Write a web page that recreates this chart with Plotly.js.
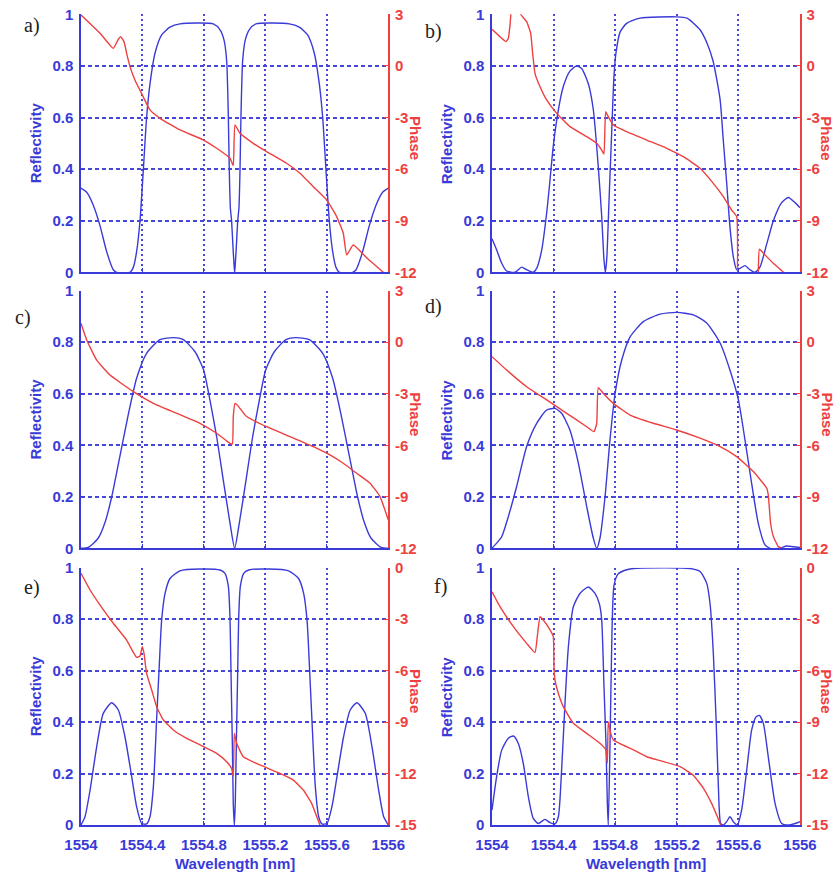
<!DOCTYPE html>
<html><head><meta charset="utf-8">
<script src="https://cdn.plot.ly/plotly-3.0.1.min.js"></script>
<style>html,body{margin:0;padding:0;background:#fff}#chart{width:836px;height:873px}</style>
</head><body><div id="chart"></div>
<script>
// ---------- tick labels ----------
const waveTicks = [1554, 1554.4, 1554.8, 1555.2, 1555.6, 1556];
const waveTickText = ['1554', '1554.4', '1554.8', '1555.2', '1555.6', '1556'];
const reflTicks = [0, 0.2, 0.4, 0.6, 0.8, 1];
const reflTickText = ['0', '0.2', '0.4', '0.6', '0.8', '1'];
const phaseTicksAD = [-12, -9, -6, -3, 0, 3];
const phaseTicksEF = [-15, -12, -9, -6, -3, 0];
const panelLabels = ['a)', 'b)', 'c)', 'd)', 'e)', 'f)'];

// ---------- panel a ----------
const waveA_R = [1554.000,1554.037,1554.080,1554.124,1554.167,1554.210,1554.232,1554.319,1554.341,1554.362,1554.384,1554.406,1554.427,1554.449,1554.482,1554.525,1554.579,1554.644,1554.861,1554.905,1554.931,1554.948,1554.959,1554.965,1554.972,1554.980,1554.989,1554.996,1555.000,1555.004,1555.011,1555.020,1555.028,1555.035,1555.041,1555.052,1555.069,1555.095,1555.139,1555.356,1555.421,1555.475,1555.518,1555.551,1555.573,1555.594,1555.616,1555.638,1555.659,1555.681,1555.768,1555.790,1555.833,1555.876,1555.920,1555.963,1556.000];
const reflA = [0.326,0.31,0.26,0.18,0.08,0.01,0,0,0.02,0.08,0.2,0.4,0.6,0.73,0.85,0.92,0.95,0.963,0.963,0.94,0.9,0.82,0.6,0.4,0.25,0.2,0.1,0.03,0,0.03,0.1,0.2,0.25,0.4,0.6,0.82,0.9,0.94,0.963,0.963,0.95,0.92,0.85,0.73,0.6,0.4,0.2,0.08,0.02,0,0,0.01,0.08,0.18,0.26,0.31,0.326];
const waveA_P = [1554.000,1554.124,1554.210,1554.243,1554.258,1554.280,1554.297,1554.319,1554.351,1554.399,1554.449,1554.514,1554.644,1554.798,1554.883,1554.970,1554.991,1555.002,1555.035,1555.121,1555.208,1555.338,1555.425,1555.512,1555.599,1555.664,1555.707,1555.729,1555.772,1555.859,1555.967,1556.000];
const phaseA = [2.96,1.9,1.02,1.55,1.70,1.41,0.73,-0.04,-0.82,-1.69,-2.56,-3.05,-3.72,-4.31,-4.79,-5.37,-5.80,-3.43,-3.92,-4.50,-4.98,-5.66,-6.24,-7.02,-7.79,-8.76,-9.73,-10.99,-10.41,-11.15,-12.0,-12.3];

// ---------- panel b ----------
const waveB_R = [1554.000,1554.030,1554.063,1554.095,1554.149,1554.193,1554.225,1554.268,1554.290,1554.323,1554.355,1554.377,1554.398,1554.431,1554.463,1554.506,1554.550,1554.582,1554.626,1554.658,1554.690,1554.712,1554.727,1554.736,1554.745,1554.760,1554.777,1554.792,1554.805,1554.831,1554.874,1554.961,1555.199,1555.266,1555.351,1555.395,1555.435,1555.481,1555.502,1555.524,1555.545,1555.567,1555.589,1555.610,1555.643,1555.675,1555.708,1555.740,1555.784,1555.827,1555.881,1555.924,1555.968,1556.000];
const reflB = [0.13,0.087,0.035,0.005,0,0.02,0.01,0,0.015,0.087,0.23,0.36,0.49,0.63,0.72,0.78,0.80,0.79,0.73,0.63,0.41,0.22,0.05,0,0.05,0.28,0.54,0.76,0.85,0.93,0.965,0.985,0.99,0.985,0.94,0.89,0.82,0.67,0.51,0.345,0.177,0.06,0.01,0.015,0.026,0.01,0,0.02,0.11,0.2,0.27,0.29,0.27,0.25];
const waveB_P = [1554.000,1554.052,1554.091,1554.106,1554.117,1554.123,1554.128,1554.177,1554.186,1554.225,1554.251,1554.264,1554.279,1554.312,1554.355,1554.420,1554.506,1554.615,1554.680,1554.712,1554.727,1554.738,1554.755,1554.788,1554.874,1555.004,1555.134,1555.242,1555.351,1555.437,1555.502,1555.556,1555.589,1555.595,1555.600,1555.725,1555.729,1555.736,1555.762,1555.827,1555.892,1555.935];
const phaseB = [2.13,1.70,1.41,1.60,2.38,3.06,3.45,3.45,3.0,2.57,1.90,0.73,-0.43,-1.21,-1.98,-2.76,-3.53,-4.11,-4.50,-4.89,-5.12,-2.66,-2.95,-3.43,-3.82,-4.31,-4.79,-5.28,-5.95,-6.83,-7.60,-8.38,-8.76,-10.89,-12.25,-12.25,-12.0,-10.66,-10.89,-11.48,-12.0,-12.44];

// ---------- panel c ----------
const waveC_R = [1554.000,1554.048,1554.113,1554.156,1554.200,1554.254,1554.308,1554.362,1554.427,1554.514,1554.601,1554.666,1554.742,1554.798,1554.839,1554.883,1554.926,1554.970,1555.000,1555.030,1555.074,1555.117,1555.161,1555.202,1555.258,1555.334,1555.399,1555.486,1555.573,1555.638,1555.692,1555.746,1555.800,1555.844,1555.887,1555.952,1556.000];
const reflC = [0,0.004,0.04,0.10,0.20,0.36,0.52,0.66,0.757,0.81,0.818,0.81,0.763,0.692,0.576,0.433,0.265,0.097,0,0.097,0.265,0.433,0.576,0.692,0.763,0.81,0.818,0.81,0.757,0.66,0.52,0.36,0.20,0.10,0.04,0.004,0];
const waveC_P = [1554.000,1554.037,1554.102,1554.189,1554.341,1554.471,1554.623,1554.774,1554.883,1554.970,1554.985,1554.991,1555.002,1555.017,1555.078,1555.208,1555.360,1555.512,1555.620,1555.707,1555.794,1555.881,1555.946,1556.000];
const phaseC = [1.10,0.13,-1.04,-1.91,-2.88,-3.56,-4.14,-4.72,-5.30,-5.89,-5.92,-4.33,-3.56,-3.65,-4.33,-4.92,-5.50,-6.08,-6.56,-7.05,-7.63,-8.21,-8.99,-10.35];

// ---------- panel d ----------
const waveD_R = [1554.000,1554.030,1554.063,1554.106,1554.160,1554.225,1554.290,1554.355,1554.409,1554.452,1554.506,1554.561,1554.615,1554.658,1554.680,1554.701,1554.734,1554.766,1554.799,1554.842,1554.896,1554.983,1555.091,1555.199,1555.307,1555.394,1555.481,1555.545,1555.600,1555.643,1555.686,1555.729,1555.773,1555.805,1555.870,1555.913,1555.957,1556.000];
const reflD = [0,0.02,0.045,0.123,0.24,0.395,0.485,0.537,0.543,0.524,0.459,0.33,0.162,0.039,0,0.039,0.20,0.42,0.60,0.73,0.82,0.88,0.909,0.916,0.906,0.875,0.797,0.692,0.576,0.42,0.252,0.097,0.013,0,0,0.009,0.006,0.003];
const waveD_P = [1554.000,1554.095,1554.225,1554.355,1554.485,1554.615,1554.662,1554.680,1554.690,1554.723,1554.788,1554.896,1555.048,1555.199,1555.351,1555.481,1555.589,1555.697,1555.784,1555.794,1555.809,1555.827,1555.859,1555.881,1555.924];
const phaseD = [-0.84,-1.62,-2.59,-3.36,-4.14,-4.92,-5.21,-4.72,-2.65,-2.98,-3.56,-4.24,-4.72,-5.11,-5.59,-6.08,-6.66,-7.53,-8.50,-8.89,-10.54,-11.31,-11.90,-12.0,-12.3];

// ---------- panel e ----------
const waveE_R = [1554.000,1554.026,1554.059,1554.102,1554.145,1554.200,1554.243,1554.286,1554.330,1554.362,1554.395,1554.427,1554.449,1554.471,1554.492,1554.510,1554.525,1554.547,1554.579,1554.644,1554.774,1554.905,1554.937,1554.959,1554.970,1554.976,1554.985,1554.991,1554.998,1555.004,1555.011,1555.020,1555.026,1555.037,1555.059,1555.091,1555.221,1555.351,1555.416,1555.449,1555.471,1555.486,1555.503,1555.525,1555.547,1555.568,1555.601,1555.633,1555.666,1555.709,1555.752,1555.796,1555.850,1555.894,1555.937,1555.970,1556.000];
const reflE = [0,0.032,0.136,0.304,0.434,0.475,0.447,0.343,0.188,0.071,0.006,0.004,0.032,0.149,0.408,0.628,0.797,0.90,0.958,0.988,0.995,0.991,0.978,0.927,0.797,0.602,0.317,0.084,0,0.084,0.317,0.602,0.797,0.927,0.978,0.991,0.995,0.988,0.958,0.90,0.797,0.628,0.408,0.149,0.032,0.004,0.006,0.071,0.188,0.343,0.447,0.475,0.434,0.304,0.136,0.032,0];
const waveE_P = [1554.000,1554.059,1554.124,1554.210,1554.297,1554.362,1554.384,1554.399,1554.410,1554.427,1554.460,1554.492,1554.536,1554.601,1554.688,1554.798,1554.883,1554.948,1554.980,1554.991,1554.998,1555.013,1555.056,1555.165,1555.295,1555.382,1555.447,1555.501,1555.534,1555.555,1555.588];
const phaseE = [-0.33,-1.30,-2.18,-3.24,-4.22,-5.23,-5.15,-4.61,-5.00,-6.16,-7.13,-8.10,-8.88,-9.46,-9.95,-10.43,-10.82,-11.31,-11.70,-12.18,-9.66,-10.24,-11.02,-11.50,-11.99,-12.38,-12.96,-13.74,-14.51,-15.0,-15.5];

// ---------- panel f ----------
const waveF_R = [1554.000,1554.030,1554.063,1554.106,1554.139,1554.171,1554.203,1554.236,1554.268,1554.301,1554.344,1554.377,1554.409,1554.431,1554.452,1554.474,1554.496,1554.528,1554.571,1554.626,1554.669,1554.697,1554.712,1554.727,1554.740,1554.749,1554.755,1554.766,1554.779,1554.792,1554.818,1554.864,1554.918,1555.286,1555.351,1555.394,1555.416,1555.437,1555.455,1555.470,1555.485,1555.502,1555.524,1555.545,1555.567,1555.593,1555.621,1555.654,1555.686,1555.714,1555.736,1555.762,1555.794,1555.838,1555.881,1555.924,1555.968,1556.000];
const reflF = [0.058,0.188,0.291,0.337,0.346,0.317,0.24,0.11,0.026,0.006,0.022,0.009,0.004,0.032,0.214,0.473,0.693,0.848,0.90,0.925,0.90,0.86,0.80,0.54,0.32,0.085,0,0.3,0.75,0.93,0.975,0.99,0.997,0.997,0.985,0.94,0.86,0.67,0.41,0.15,0.006,0,0.013,0.032,0.013,0,0.058,0.214,0.369,0.42,0.426,0.395,0.265,0.084,0.006,0,0.006,0.013];
const waveF_P = [1554.000,1554.052,1554.139,1554.225,1554.279,1554.294,1554.312,1554.333,1554.377,1554.398,1554.403,1554.409,1554.431,1554.463,1554.528,1554.615,1554.701,1554.740,1554.749,1554.755,1554.771,1554.788,1554.918,1555.005,1555.091,1555.221,1555.307,1555.372,1555.426,1555.463,1555.485,1555.524];
const phaseF = [-1.40,-2.27,-3.44,-4.41,-4.95,-4.02,-2.86,-3.05,-3.63,-4.02,-5.96,-6.55,-7.33,-8.10,-9.07,-9.66,-10.24,-10.63,-11.39,-8.98,-9.66,-10.05,-10.62,-11.02,-11.25,-11.6,-12.1,-12.85,-13.74,-14.51,-15.0,-15.5];

// ---------- build ----------
const BLUE = '#3a3ad8';
const RED = '#ee4040';
const W = 836, H = 873;
const FONT = 'Liberation Sans, Arial, sans-serif';

const panels = [
  {wr: waveA_R, r: reflA, wp: waveA_P, p: phaseA, pt: phaseTicksAD},
  {wr: waveB_R, r: reflB, wp: waveB_P, p: phaseB, pt: phaseTicksAD},
  {wr: waveC_R, r: reflC, wp: waveC_P, p: phaseC, pt: phaseTicksAD},
  {wr: waveD_R, r: reflD, wp: waveD_P, p: phaseD, pt: phaseTicksAD},
  {wr: waveE_R, r: reflE, wp: waveE_P, p: phaseE, pt: phaseTicksEF},
  {wr: waveF_R, r: reflF, wp: waveF_P, p: phaseF, pt: phaseTicksEF}
];

const colPx = [[81, 388.3], [492, 800]];
const rowPx = [[14.3, 272.3], [290.7, 548.3], [567.7, 825]];

const traces = [];
const layout = {
  width: W, height: H,
  margin: {l: 0, r: 0, t: 0, b: 0},
  paper_bgcolor: '#fff', plot_bgcolor: '#fff',
  showlegend: false, hovermode: false,
  annotations: []
};

const tickFont = (c) => ({family: FONT, size: 15, color: c, weight: 'bold'});

panels.forEach((pn, i) => {
  const col = i % 2, row = Math.floor(i / 2);
  const xn = i === 0 ? 'x' : 'x' + (i + 1);
  const y1n = 'y' + (2 * i + 1 === 1 ? '' : 2 * i + 1);
  const y2n = 'y' + (2 * i + 2);
  const xKey = i === 0 ? 'xaxis' : 'xaxis' + (i + 1);
  const y1Key = 'yaxis' + (2 * i + 1 === 1 ? '' : 2 * i + 1);
  const y2Key = 'yaxis' + (2 * i + 2);
  const xd = [colPx[col][0] / W, colPx[col][1] / W];
  const yd = [1 - rowPx[row][1] / H, 1 - rowPx[row][0] / H];

  traces.push({x: pn.wr, y: pn.r, xaxis: xn, yaxis: y1n, type: 'scatter', mode: 'lines',
    line: {color: BLUE, width: 1.4, shape: 'spline', smoothing: 0.6}});
  traces.push({x: pn.wp, y: pn.p, xaxis: xn, yaxis: y2n, type: 'scatter', mode: 'lines',
    line: {color: RED, width: 1.4, shape: 'spline', smoothing: 0.4}});

  layout[xKey] = {
    domain: xd, anchor: y1n, range: [1554, 1556],
    tickvals: waveTicks, ticktext: waveTickText, showticklabels: row === 2,
    tickfont: tickFont(BLUE), ticks: 'inside', ticklen: 4, tickcolor: BLUE,
    ticklabelstandoff: 5,
    showline: true, linecolor: BLUE, linewidth: 1.6,
    showgrid: true, gridcolor: '#4646dc', gridwidth: 2, griddash: '2px,3px',
    zeroline: false, fixedrange: true
  };
  layout[y1Key] = {
    domain: yd, anchor: xn, range: [0, 1],
    tickvals: reflTicks, ticktext: reflTickText,
    tickfont: tickFont(BLUE), ticks: 'inside', ticklen: 4, tickcolor: BLUE,
    ticklabelstandoff: 3,
    showline: true, linecolor: BLUE, linewidth: 1.6,
    showgrid: true, gridcolor: '#4646dc', gridwidth: 2, griddash: '4px,3px',
    zeroline: false, fixedrange: true
  };
  layout[y2Key] = {
    overlaying: y1n, side: 'right', anchor: xn,
    range: [pn.pt[0], pn.pt[pn.pt.length - 1]],
    tickvals: pn.pt, ticktext: pn.pt.map(String),
    tickfont: tickFont(RED), ticks: 'inside', ticklen: 4, tickcolor: RED,
    ticklabelstandoff: 2,
    showline: true, linecolor: RED, linewidth: 1.6,
    showgrid: false, zeroline: false, fixedrange: true
  };

  const rowCenter = (rowPx[row][0] + rowPx[row][1]) / 2;
  layout.annotations.push({
    xref: 'paper', yref: 'paper', x: (colPx[col][0] - 46) / W, y: 1 - rowCenter / H,
    text: 'Reflectivity', textangle: -90, showarrow: false,
    xanchor: 'center', yanchor: 'middle',
    font: {family: FONT, size: 15, color: BLUE, weight: 'bold'}
  });
  layout.annotations.push({
    xref: 'paper', yref: 'paper', x: (colPx[col][1] + 27) / W, y: 1 - (rowCenter - 5) / H,
    text: 'Phase', textangle: 90, showarrow: false,
    xanchor: 'center', yanchor: 'middle',
    font: {family: FONT, size: 15, color: RED, weight: 'bold'}
  });
  if (row === 2) {
    layout.annotations.push({
      xref: 'paper', yref: 'paper', x: (colPx[col][0] + colPx[col][1]) / 2 / W, y: 1 - 863 / H,
      text: 'Wavelength [nm]', showarrow: false, xanchor: 'center', yanchor: 'middle',
      font: {family: FONT, size: 15, color: BLUE, weight: 'bold'}
    });
  }
});

const labelPos = [[22, 25.5], [423, 32], [13, 317.5], [423, 306], [22, 587], [432, 586]];
panelLabels.forEach((t, i) => {
  layout.annotations.push({
    xref: 'paper', yref: 'paper', x: labelPos[i][0] / W, y: 1 - labelPos[i][1] / H,
    text: t, showarrow: false, xanchor: 'left', yanchor: 'middle',
    font: {family: 'Liberation Serif, Times New Roman, serif', size: 20, color: '#222'}
  });
});

Plotly.newPlot('chart', traces, layout, {staticPlot: true, displayModeBar: false});
</script>
</body></html>
